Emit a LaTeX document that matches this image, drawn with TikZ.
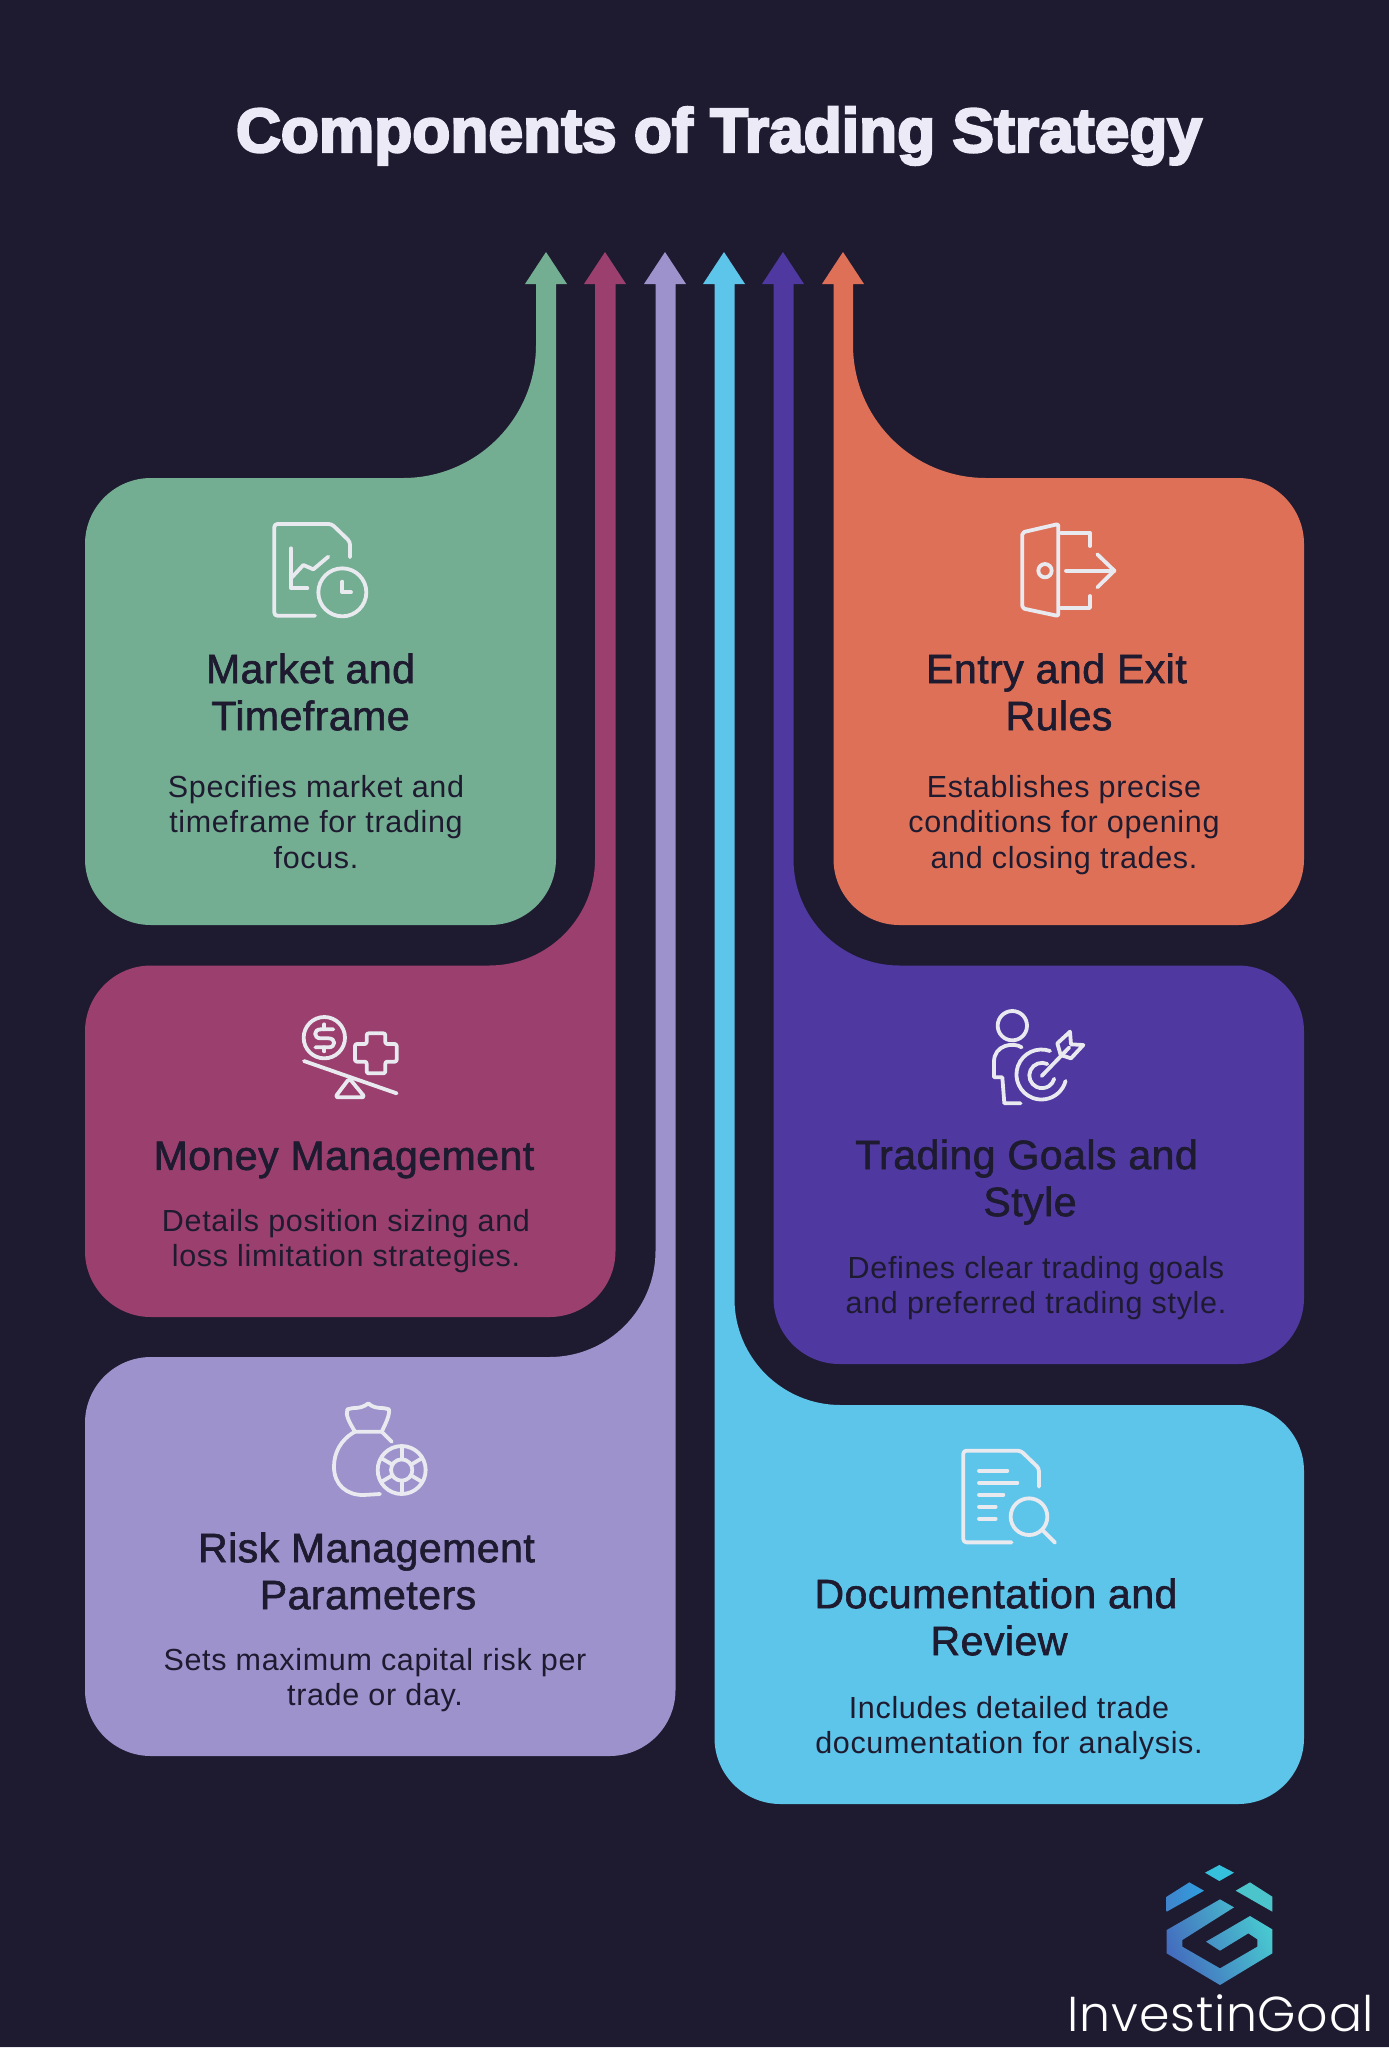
\documentclass[tikz,border=0pt]{standalone}
\usepackage{fontspec}
\setmainfont{Liberation Sans}
\newfontfamily\titlefont[FakeBold=4,LetterSpace=0.3]{Liberation Sans Bold}
\newfontfamily\headfont[FakeBold=1.5,LetterSpace=1.2]{Liberation Sans}
\newfontfamily\bodyfont[LetterSpace=2.2]{Liberation Sans}
\newfontfamily\logofont[LetterSpace=1.5]{Poppins}[UprightFont=* Light]
\definecolor{bg}{HTML}{1E1B30}
\definecolor{cgreen}{HTML}{74AE92}
\definecolor{cpink}{HTML}{9B3F6E}
\definecolor{clilac}{HTML}{9D92CC}
\definecolor{cblue}{HTML}{5DC5EA}
\definecolor{cpurple}{HTML}{4F38A0}
\definecolor{corange}{HTML}{DF7058}
\definecolor{icon}{HTML}{E9E9F0}
\definecolor{titlec}{HTML}{ECEAF6}
\definecolor{logoA}{HTML}{446CBE}
\definecolor{logoB}{HTML}{20B0E8}
\definecolor{logoC}{HTML}{48C8D0}
\definecolor{logoD}{HTML}{3F84CC}
\definecolor{logoE}{HTML}{2FA0E0}
\tikzset{
  headtxt/.style={align=center,text=bg,inner sep=0pt,font=\headfont\fontsize{41}{47}\selectfont},
  bodytxt/.style={align=center,text=bg,inner sep=0pt,font=\bodyfont\fontsize{30.5}{35.5}\selectfont},
  iconline/.style={draw=icon,line width=3.8pt,line cap=round,line join=round}
}
\begin{document}
\begin{tikzpicture}[x=1pt,y=-1pt]
\useasboundingbox (0,0) rectangle (1389,2048);
\fill[bg] (0,0) rectangle (1389,2048);
\fill[icon] (0,2047) rectangle (1389,2048);

\node[text=titlec,inner sep=0pt,font=\titlefont\fontsize{62}{70}\selectfont] (title) at (719,136) {Components of Trading Strategy};

% green
\fill[cgreen] (546,252) -- (567,284) -- (556,284) -- (556,859) arc[start angle=0,end angle=90,radius=66]
 -- (151,925) arc[start angle=90,end angle=180,radius=66] -- (85,544) arc[start angle=180,end angle=270,radius=66]
 -- (403,478) arc[start angle=90,end angle=0,radius=133] -- (536,284) -- (525,284) -- cycle;
% pink
\fill[cpink] (605,252) -- (626,284) -- (615.5,284) -- (615.5,1251) arc[start angle=0,end angle=90,radius=66]
 -- (151,1317) arc[start angle=90,end angle=180,radius=66] -- (85,1031.5) arc[start angle=180,end angle=270,radius=66]
 -- (489,965.5) arc[start angle=90,end angle=0,radius=106] -- (595,284) -- (584,284) -- cycle;
% lilac
\fill[clilac] (665,252) -- (686,284) -- (675.5,284) -- (675.5,1690) arc[start angle=0,end angle=90,radius=66]
 -- (151,1756) arc[start angle=90,end angle=180,radius=66] -- (85,1423) arc[start angle=180,end angle=270,radius=66]
 -- (549.5,1357) arc[start angle=90,end angle=0,radius=106] -- (655.5,284) -- (644,284) -- cycle;
% orange
\fill[corange] (843,252) -- (864,284) -- (853,284) -- (853,345) arc[start angle=180,end angle=90,radius=133]
 -- (1238,478) arc[start angle=270,end angle=360,radius=66] -- (1304,859) arc[start angle=0,end angle=90,radius=66]
 -- (899.5,925) arc[start angle=90,end angle=180,radius=66] -- (833.5,284) -- (822,284) -- cycle;
% purple
\fill[cpurple] (783,252) -- (804,284) -- (793.5,284) -- (793.5,859.5) arc[start angle=180,end angle=90,radius=106]
 -- (1238,965.5) arc[start angle=270,end angle=360,radius=66] -- (1304,1298) arc[start angle=0,end angle=90,radius=66]
 -- (839.5,1364) arc[start angle=90,end angle=180,radius=66] -- (773.5,284) -- (762,284) -- cycle;
% blue
\fill[cblue] (724,252) -- (745,284) -- (734.5,284) -- (734.5,1299) arc[start angle=180,end angle=90,radius=106]
 -- (1238,1405) arc[start angle=270,end angle=360,radius=66] -- (1304,1738) arc[start angle=0,end angle=90,radius=66]
 -- (780.5,1804) arc[start angle=90,end angle=180,radius=66] -- (714.5,284) -- (703,284) -- cycle;

% texts
\node[headtxt] (h1) at (310.5,692) {Market and\\Timeframe};
\node[bodytxt] (b1) at (316,822) {Specifies market and\\timeframe for trading\\focus.};
\node[headtxt] (h2) at (344,1160) {Money Management};
\node[bodytxt] (b2) at (346,1241) {Details position sizing and\\loss limitation strategies.};
\node[headtxt] (h3) at (368,1571) {Risk Management\hspace*{3pt}\\Parameters};
\node[bodytxt] (b3) at (375,1680) {Sets maximum capital risk per\\trade or day.};
\node[headtxt] (h4) at (1059,692) {Entry and Exit\hspace*{5pt}\\Rules};
\node[bodytxt] (b4) at (1064,825) {Establishes precise\\conditions for opening\\and closing trades.};
\node[headtxt] (h5) at (1030,1182) {Trading Goals and\hspace*{7pt}\\Style};
\node[bodytxt] (b5) at (1036,1288) {Defines clear trading goals\\and preferred trading style.};
\node[headtxt] (h6) at (999,1617) {Documentation and\hspace*{6pt}\\Review};
\node[bodytxt] (b6) at (1009,1728) {Includes detailed trade\\documentation for analysis.};

% icon 1
\begin{scope}[shift={(250,500)},x=.33333pt,y=-.33333pt,iconline]
\draw[rounded corners=3pt] (195,347) -- (73,347) -- (73,72) -- (245,72) -- (300,125) -- (300,172);
\draw (123,145) -- (123,265) -- (172,265);
\draw (123,235) -- (160,195) -- (190,208) -- (235,170);
\draw (277,277) circle[radius=72];
\draw (277,245) -- (277,277) -- (303,277);
\end{scope}
% icon 2
\begin{scope}[shift={(990,500)},x=.33333pt,y=-.33333pt,iconline]
\draw[rounded corners=2pt] (97,97) -- (205,72) -- (205,348) -- (97,325) -- cycle;
\draw (165,212) circle[radius=20];
\draw (213,98) -- (300,98) -- (300,138);
\draw (300,288) -- (300,324) -- (213,324);
\draw (228,212) -- (373,212);
\draw (322,163) -- (373,212) -- (322,262);
\end{scope}
% icon 3
\begin{scope}[shift={(280,990)},x=.33333pt,y=-.33333pt,iconline]
\draw (133,143) circle[radius=62];
\draw (160,118) -- (122,118) .. controls (100,118) and (100,145) .. (122,145) -- (146,145) .. controls (168,145) and (168,172) .. (146,172) -- (106,172);
\draw (133,103) -- (133,118) (133,172) -- (133,184);
\draw[rounded corners=2pt] (260,130) -- (316,130) -- (316,162) -- (350,162) -- (350,215) -- (316,215) -- (316,250) -- (260,250) -- (260,215) -- (225,215) -- (225,162) -- (260,162) -- cycle;
\draw (72,213) -- (350,310);
\draw[rounded corners=3pt] (208,265) -- (255,322) -- (165,322) -- cycle;
\end{scope}
% icon 4
\begin{scope}[shift={(970,990)},x=.33333pt,y=-.33333pt,iconline]
\draw (127,107) circle[radius=44];
\draw (155,172) .. controls (130,155) and (72,165) .. (72,215) -- (72,262) -- (97,262) -- (103,340) -- (152,340);
\draw (240,183) arc[start angle=-70,end angle=-345,radius=75];
\draw (232,222) arc[start angle=-65,end angle=-345,radius=38];
\draw (215,258) -- (298,172);
\draw (300,125) -- (262,160) -- (272,195) -- (303,205) -- (340,165) -- (303,163) -- cycle;
\end{scope}
% icon 5
\begin{scope}[shift={(310,1390)},x=.33333pt,y=-.33333pt,iconline]
\draw (135,125) .. controls (120,100) and (105,75) .. (112,58) .. controls (130,50) and (150,60) .. (175,40) .. controls (195,60) and (220,50) .. (237,58) .. controls (240,75) and (225,105) .. (215,125) -- cycle;
\draw (135,125) .. controls (90,150) and (72,190) .. (72,230) .. controls (72,285) and (110,315) .. (160,315) -- (210,312);
\draw (215,125) -- (245,155);
\draw (275,240) circle[radius=72];
\draw (275,240) circle[radius=32];
\draw (275,170) -- (275,208) (275,272) -- (275,310);
\draw (215,205) -- (247,224) (303,256) -- (335,275);
\draw (215,275) -- (247,256) (303,224) -- (335,205);
\end{scope}
% icon 6
\begin{scope}[shift={(940,1435)},x=.33333pt,y=-.33333pt,iconline]
\draw[rounded corners=3pt] (215,322) -- (70,322) -- (70,47) -- (242,47) -- (297,100) -- (297,155);
\draw (117,107) -- (202,107) (117,143) -- (232,143) (117,179) -- (190,179) (117,215) -- (167,215) (117,251) -- (167,251);
\draw (267,245) circle[radius=55];
\draw (307,285) -- (345,323);
\end{scope}

% logo
\begin{scope}[shift={(1050,1850)},x=.33333pt,y=-.33333pt]
\fill[color={rgb,255:red,53;green,192;blue,220}] (465,68) -- (508,45) -- (552,68) -- (508,93) -- cycle;
\shade[left color=logoD,right color=logoE] (350,185) -- (350,140) -- (418,97) -- (462,122) -- cycle;
\fill[color={rgb,255:red,76;green,196;blue,204}] (557,122) -- (600,97) -- (667,140) -- (667,185) -- cycle;
\shade[left color=logoA,middle color=logoB,right color=logoC,shading angle=115]
 (510,148) -- (552,172) -- (397,270) -- (397,290) -- (510,355) -- (622,290) -- (622,268) -- (595,250) -- (510,302) -- (468,275) -- (600,198) -- (667,238) -- (667,310) -- (510,405) -- (350,310) -- (350,240) -- cycle;
\end{scope}
\node[text=white,inner sep=0pt,anchor=base,font=\logofont\fontsize{49}{52}\selectfont] (logotxt) at (1221,2031) {InvestinGoal};
\end{tikzpicture}
\end{document}
